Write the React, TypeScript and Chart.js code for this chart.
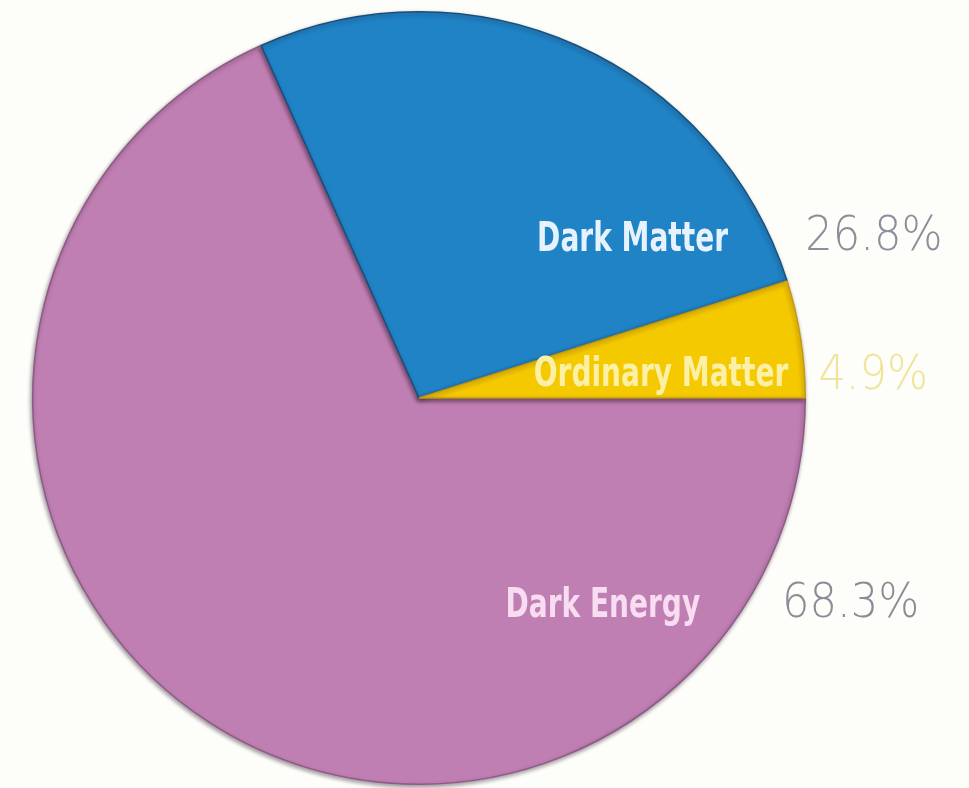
import React, { useEffect, useRef } from "react";
import { Chart, registerables } from "chart.js";

Chart.register(...registerables);

// Data (clockwise from 3 o'clock)
const categories = ["Dark Energy", "Dark Matter", "Ordinary Matter"];
const shares = [68.3, 26.8, 4.9];
const percentLabels = ["68.3%", "26.8%", "4.9%"];

const sliceColors = ["#c07fb3", "#1f83c5", "#f5c900"];
const sliceBorders = ["#8e5a86", "#16507e", "#c49a10"];
const nameColors = ["#f7dcf2", "#e6f3ff", "#fbf0a6"];
const pctColors = ["#8c8c98", "#8c8e9c", "#efe49c"];

// label layout relative to pie centre, in units of radius
const nameAnchor = [
  { x: 0.728, y: 0.567 },
  { x: 0.8, y: -0.381 },
  { x: 0.956, y: -0.031 },
];
const pctAnchor = [
  { x: 0.94, y: 0.567 },
  { x: 1.0, y: -0.383 },
  { x: 1.034, y: -0.023 },
];

function drawScaled(
  ctx: CanvasRenderingContext2D,
  text: string,
  x: number,
  y: number,
  align: "left" | "right",
  font: string,
  color: string,
  sx: number
) {
  ctx.save();
  ctx.font = font;
  ctx.fillStyle = color;
  ctx.textBaseline = "alphabetic";
  ctx.textAlign = align;
  ctx.translate(x, y);
  ctx.scale(sx, 1);
  ctx.fillText(text, 0, 0);
  ctx.restore();
}

const labelPlugin = {
  id: "sliceLabels",
  beforeDatasetDraw(chart: any) {
    const ctx = chart.ctx;
    ctx.save();
    ctx.shadowColor = "rgba(40,20,40,0.45)";
    ctx.shadowBlur = 4;
    ctx.shadowOffsetX = -1;
    ctx.shadowOffsetY = 2;
  },
  afterDatasetDraw(chart: any) {
    chart.ctx.restore();
  },
  afterDraw(chart: any) {
    const ctx = chart.ctx;
    const meta = chart.getDatasetMeta(0);
    const arc = meta.data[0];
    if (!arc) return;
    const cx = arc.x;
    const cy = arc.y;
    const r = arc.outerRadius;
    categories.forEach((name, i) => {
      drawScaled(
        ctx,
        name,
        cx + nameAnchor[i].x * r,
        cy + nameAnchor[i].y * r,
        "right",
        'bold 41px "DejaVu Sans Condensed", "DejaVu Sans"',
        nameColors[i],
        0.76
      );
      drawScaled(
        ctx,
        percentLabels[i],
        cx + pctAnchor[i].x * r,
        cy + pctAnchor[i].y * r,
        "left",
        '200 48px "DejaVu Sans", "DejaVu Sans Condensed"',
        pctColors[i],
        0.9
      );
    });
  },
};

export default function App() {
  const ref = useRef<HTMLCanvasElement | null>(null);
  useEffect(() => {
    if (!ref.current) return;
    const chart = new Chart(ref.current, {
      type: "pie",
      data: {
        labels: categories,
        datasets: [
          {
            data: shares,
            backgroundColor: sliceColors,
            borderColor: sliceBorders,
            borderWidth: 1.5,
          },
        ],
      },
      options: {
        animation: false,
        responsive: true,
        maintainAspectRatio: false,
        rotation: 90,
        layout: { padding: { left: 32, right: 163, top: 11, bottom: 3 } },
        plugins: {
          legend: { display: false },
          tooltip: { enabled: false },
        },
      },
      plugins: [labelPlugin],
    });
    return () => chart.destroy();
  }, []);
  return (
    <div
      style={{
        position: "fixed",
        left: 0,
        top: 0,
        width: 969,
        height: 788,
        background: "#fdfdf9",
      }}
    >
      <canvas ref={ref} />
    </div>
  );
}
